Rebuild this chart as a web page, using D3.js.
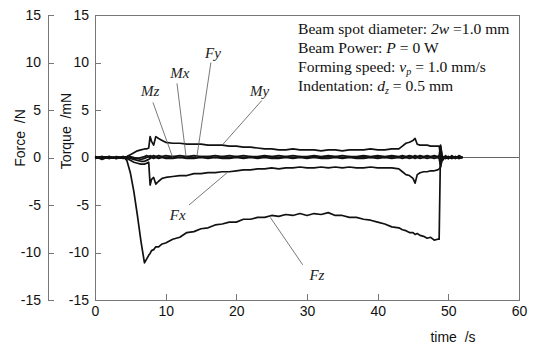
<!DOCTYPE html>
<html lang="en">
<head>
  <meta charset="UTF-8">
  <title>D3 -- force / torque</title>
  <style>
    body { margin: 0; background: #fff; }
    .axis path, .axis line { fill: none; stroke: #777; shape-rendering: crispEdges; }
    .axis text { font: 14px "Liberation Sans", Arial, sans-serif; fill: #111; }
    .lbl { font: 14px "Liberation Sans", Arial, sans-serif; fill: #111; }
    .note { font: italic 15px "Liberation Serif", "Times New Roman", serif; fill: #222; }
    .info { font: 15.6px "Liberation Serif", "Times New Roman", serif; fill: #111; }
  </style>
</head>
<body>
<div class="chart"></div>
<script src="https://d3js.org/d3.v7.min.js"></script>
<script>
  // time axis (s)
  let times = [0, 1, 2, 3, 4, 4.5, 5, 5.5, 6, 6.5, 7, 7.3, 7.6, 7.8, 8, 8.3, 8.6, 9, 9.5, 10,
    11, 12, 13, 14, 15, 16, 17, 18, 19, 20, 21, 22, 23, 24, 25, 26, 27, 28, 29, 30,
    31, 32, 33, 34, 35, 36, 37, 38, 39, 40, 41, 42, 43,
    43.5, 44, 44.5, 45, 45.3, 45.6, 46, 46.5, 47, 47.5, 48, 48.5, 48.7,
    48.9, 49.2, 49.6, 50, 50.5, 51, 51.5, 52]

  let fz = [0.1, -0.2, 0.1, -0.1, 0.1,
    -0.3, -1.6, -3.6, -6.1, -8.8, -11.1,
    -10.7, -10.3, -10.1, -9.8, -9.7, -9.4, -9.4, -9.1, -9.0,
    -8.6, -8.4, -7.9, -7.8, -7.5, -7.4, -7.1, -7.0, -6.8, -6.8,
    -6.5, -6.5, -6.3, -6.3, -6.1, -6.2, -6.0, -6.1, -5.9, -6.1,
    -5.9, -6.0, -5.8, -6.1, -6.1, -6.3, -6.3, -6.5, -6.6, -6.8,
    -7.0, -7.3, -7.4,
    -7.6, -7.7, -7.9, -7.9, -8.1, -8.0, -8.2, -8.3, -8.5, -8.4, -8.7, -8.6, -8.6,
    1.2, -0.3, 0.2, -0.1, 0.2, -0.1, 0.2, 0.0]

  let fx = [0.0, -0.1, 0.1, -0.1, 0.0,
    -0.1, -0.3, -0.5, -0.6, -0.7, -0.7,
    -0.6, -0.5, -2.9, -2.3, -2.1, -2.8, -2.5, -2.2, -2.1,
    -2.0, -1.9, -1.9, -1.7, -1.7, -1.6, -1.6, -1.5, -1.5, -1.4,
    -1.3, -1.3, -1.2, -1.2, -1.1, -1.2, -1.1, -1.1, -1.0, -1.1,
    -1.1, -1.0, -1.1, -1.0, -1.1, -1.0, -1.1, -1.1, -1.0, -1.1,
    -1.1, -1.1, -1.2,
    -1.5, -1.8, -1.9, -2.2, -2.7, -1.8, -1.6, -1.5, -1.5, -1.4, -1.4, -1.3, -1.2,
    -1.0, 0.1, -0.1, 0.1, -0.1, 0.1, -0.1, 0.0]

  let fy = [-0.1, 0.0, 0.1, 0.0, -0.1,
    0.0, 0.1, 0.0, -0.1, 0.0, 0.1,
    0.2, 0.1, 0.2, 0.1, 0.2, 0.1, 0.2, 0.1, 0.2,
    0.1, 0.2, 0.1, 0.2, 0.1, 0.1, 0.2, 0.1, 0.2, 0.1,
    0.2, 0.1, 0.1, 0.2, 0.1, 0.2, 0.1, 0.2, 0.1, 0.1,
    0.2, 0.1, 0.2, 0.1, 0.2, 0.1, 0.1, 0.2, 0.1, 0.2,
    0.1, 0.2, 0.1,
    0.2, 0.1, 0.2, 0.1, 0.2, 0.1, 0.2, 0.1, 0.2, 0.1, 0.2, 0.1, 0.2,
    1.3, -0.2, 0.1, -0.1, 0.1, 0.0, 0.1, 0.0]

  let mx = [0.1, 0.0, -0.1, 0.0, 0.1,
    0.0, -0.1, -0.2, -0.3, -0.4, -0.4,
    -0.3, -0.2, -0.1, 0.0, -0.1, 0.0, -0.1, 0.0, -0.1,
    -0.1, 0.0, -0.1, -0.1, 0.0, -0.1, 0.0, -0.1, -0.1, 0.0,
    -0.1, 0.0, -0.1, 0.0, -0.1, -0.1, 0.0, -0.1, 0.0, -0.1,
    0.0, -0.1, -0.1, 0.0, -0.1, 0.0, -0.1, -0.1, 0.0, -0.1,
    0.0, -0.1, 0.0,
    -0.1, 0.0, -0.1, 0.0, -0.1, 0.0, -0.1, 0.0, -0.1, 0.0, -0.1, 0.0, -0.1,
    -0.9, 0.1, -0.1, 0.1, -0.1, 0.1, -0.1, 0.0]

  let my = [0.0, 0.1, -0.1, 0.1, 0.0,
    0.1, 0.3, 0.5, 0.7, 0.8, 0.9,
    0.9, 1.0, 2.2, 1.7, 1.3, 2.2, 2.0, 1.8, 1.6,
    1.5, 1.5, 1.4, 1.4, 1.4, 1.3, 1.3, 1.3, 1.2, 1.2,
    1.1, 1.1, 1.0, 0.9, 0.9, 0.8, 0.8, 0.9, 0.8, 0.8,
    0.8, 0.7, 0.8, 0.8, 0.7, 0.8, 0.8, 0.8, 0.9, 0.8,
    0.8, 0.9, 0.9,
    1.2, 1.5, 1.6, 1.8, 2.0, 1.4, 1.3, 1.3, 1.3, 1.2, 1.2, 1.2, 1.2,
    0.2, 0.0, 0.1, -0.1, 0.1, 0.0, 0.1, 0.0]

  let mz = [0.0, 0.1, 0.0, -0.1, 0.0,
    0.0, 0.0, -0.1, -0.1, -0.2, -0.1,
    0.0, 0.1, 0.0, 0.1, 0.0, 0.1, 0.0, 0.1, 0.0,
    0.1, 0.0, 0.1, 0.0, 0.1, 0.1, 0.0, 0.1, 0.0, 0.1,
    0.0, 0.1, 0.0, 0.1, 0.1, 0.0, 0.1, 0.0, 0.1, 0.0,
    0.1, 0.0, 0.1, 0.1, 0.0, 0.1, 0.0, 0.1, 0.0, 0.1,
    0.0, 0.1, 0.0,
    0.1, 0.0, 0.1, 0.0, 0.1, 0.0, 0.1, 0.0, 0.1, 0.0, 0.1, 0.0, 0.1,
    0.3, -0.2, 0.1, -0.1, 0.1, -0.1, 0.1, 0.0]

  let seriesNames = ['Mz', 'Mx', 'Fy', 'Fx', 'My', 'Fz']
  let seriesValues = [mz, mx, fy, fx, my, fz]

  // annotation labels: [name, label t, label v, line from t, v, line to t, v]
  let notes = [
    ['Mz', 7.8, 7.0, 8.2, 5.8, 11.0, 0],
    ['Mx', 12.0, 8.9, 11.6, 7.8, 12.9, 0],
    ['Fy', 16.7, 11.0, 16.4, 10.0, 14.4, 0],
    ['My', 23.3, 7.0, 23.6, 6.0, 18.0, 1.3],
    ['Fx', 11.7, -6.0, 13.3, -5.0, 18.7, -1.6],
    ['Fz', 31.4, -12.3, 24.8, -6.3, 29.4, -11.3]
  ]

  let xTicks = [0, 10, 20, 30, 40, 50, 60]
  let yTicks = [-15, -10, -5, 0, 5, 10, 15]

  let width = 535
  let height = 347
  let paddingL = 95
  let paddingR = 16
  let paddingT = 15
  let paddingB = 47
  let forceAxisX = 48

  let svg = d3.select('.chart').append('svg').attr('width', width).attr('height', height)
  let xScale = d3.scaleLinear().domain([0, 60]).range([paddingL, width - paddingR])
  let yScale = d3.scaleLinear().domain([-15, 15]).range([height - paddingB, paddingT])
  let plain = (d) => String(d) // keep ascii hyphen minus like the original

  drawChart()

  function drawChart () {
    drawAxis()
    drawLines()
    drawNotes()
    drawInfo()
  }

  function drawAxis () {
    // frame
    svg.append('rect')
      .attr('x', xScale(0)).attr('y', yScale(15))
      .attr('width', xScale(60) - xScale(0)).attr('height', yScale(-15) - yScale(15))
      .attr('fill', 'none').attr('stroke', '#777').attr('shape-rendering', 'crispEdges')

    // zero line
    svg.append('line')
      .attr('x1', xScale(0)).attr('x2', xScale(60))
      .attr('y1', yScale(0)).attr('y2', yScale(0))
      .attr('stroke', '#666').attr('stroke-width', 1)

    let xAxis = d3.axisBottom(xScale).tickValues(xTicks).tickFormat(plain)
      .tickSize(-6).tickSizeOuter(0).tickPadding(6)
    svg.append('g').attr('class', 'axis')
      .attr('transform', 'translate(0,' + yScale(-15) + ')')
      .call(xAxis)

    let yAxis = d3.axisLeft(yScale).tickValues(yTicks).tickFormat(plain)
      .tickSize(-6).tickSizeOuter(0).tickPadding(6)
    svg.append('g').attr('class', 'axis')
      .attr('transform', 'translate(' + xScale(0) + ',0)')
      .call(yAxis)

    // separate force axis, same scale
    let fAxis = d3.axisLeft(yScale).tickValues(yTicks).tickFormat(plain)
      .tickSize(-6).tickSizeOuter(0).tickPadding(7)
    svg.append('g').attr('class', 'axis')
      .attr('transform', 'translate(' + forceAxisX + ',0)')
      .call(fAxis)

    svg.append('text').attr('class', 'lbl')
      .attr('transform', 'translate(25,138) rotate(-90)')
      .attr('text-anchor', 'middle')
      .text('Force\u00a0\u00a0/N')
    svg.append('text').attr('class', 'lbl')
      .attr('transform', 'translate(71,131) rotate(-90)')
      .attr('text-anchor', 'middle')
      .text('Torque\u00a0\u00a0/mN')
    svg.append('text').attr('class', 'lbl')
      .attr('x', 453).attr('y', 342)
      .attr('text-anchor', 'middle')
      .text('time\u00a0\u00a0/s')
  }

  function drawLines () {
    let line = d3.line()
      .x((d) => xScale(d[0]))
      .y((d) => yScale(d[1]))

    svg.append('g').selectAll('path')
      .data(seriesValues)
      .enter().append('path')
      .attr('d', (vals) => line(times.map((t, i) => [t, vals[i]])))
      .attr('fill', 'none')
      .attr('stroke', '#111')
      .attr('stroke-width', 1.7)
      .attr('stroke-linejoin', 'round')
  }

  function drawNotes () {
    let g = svg.append('g')
    g.selectAll('line').data(notes).enter().append('line')
      .attr('x1', (d) => xScale(d[3])).attr('y1', (d) => yScale(d[4]))
      .attr('x2', (d) => xScale(d[5])).attr('y2', (d) => yScale(d[6]))
      .attr('stroke', '#555').attr('stroke-width', 0.8)
    g.selectAll('text').data(notes).enter().append('text')
      .attr('class', 'note')
      .attr('x', (d) => xScale(d[1])).attr('y', (d) => yScale(d[2]))
      .attr('dy', '0.35em')
      .attr('text-anchor', 'middle')
      .text((d) => d[0])
  }

  function drawInfo () {
    let x0 = 298
    let t1 = svg.append('text').attr('class', 'info').attr('x', x0).attr('y', 34)
    t1.append('tspan').text('Beam spot diameter: ')
    t1.append('tspan').style('font-style', 'italic').text('2w')
    t1.append('tspan').text(' =1.0 mm')

    let t2 = svg.append('text').attr('class', 'info').attr('x', x0).attr('y', 53)
    t2.append('tspan').text('Beam Power: ')
    t2.append('tspan').style('font-style', 'italic').text('P')
    t2.append('tspan').text(' = 0 W')

    let t3 = svg.append('text').attr('class', 'info').attr('x', x0).attr('y', 72)
    t3.append('tspan').text('Forming speed: ')
    t3.append('tspan').style('font-style', 'italic').text('v')
    t3.append('tspan').style('font-style', 'italic').style('font-size', '10px').attr('dy', 3).text('p')
    t3.append('tspan').attr('dy', -3).text(' = 1.0 mm/s')

    let t4 = svg.append('text').attr('class', 'info').attr('x', x0).attr('y', 91)
    t4.append('tspan').text('Indentation: ')
    t4.append('tspan').style('font-style', 'italic').text('d')
    t4.append('tspan').style('font-style', 'italic').style('font-size', '10px').attr('dy', 3).text('z')
    t4.append('tspan').attr('dy', -3).text(' = 0.5 mm')
  }
</script>
</body>
</html>
